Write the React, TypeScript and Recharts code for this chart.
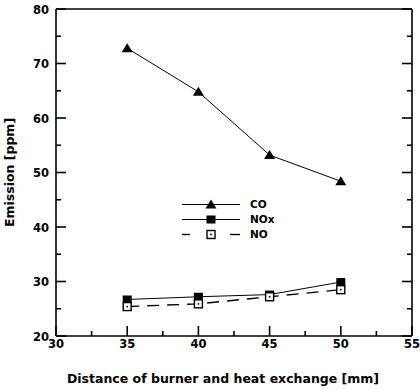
import React from 'react';
import { LineChart, Line, XAxis, YAxis } from 'recharts';

const distances = [35, 40, 45, 50];
const coValues = [72.8, 64.8, 53.2, 48.4];
const noxValues = [26.7, 27.2, 27.6, 29.9];
const noValues = [25.4, 25.9, 27.2, 28.5];

const seriesNames = ['CO', 'NOx', 'NO'];

const xMajorTicks = [30, 35, 40, 45, 50, 55];
const xMinorTicks = [32.5, 37.5, 42.5, 47.5, 52.5];
const yMajorTicks = [20, 30, 40, 50, 60, 70, 80];
const yMinorTicks = [25, 35, 45, 55, 65, 75];

const data = distances.map((d, i) => ({
  distance: d,
  co: coValues[i],
  nox: noxValues[i],
  no: noValues[i],
}));

const xTicks = [...xMajorTicks, ...xMinorTicks].sort((a, b) => a - b);
const yTicks = [...yMajorTicks, ...yMinorTicks].sort((a, b) => a - b);

const FONT = '"DejaVu Sans", Verdana, sans-serif';
const TEXT = { fill: '#000', fontSize: 11.5, fontWeight: 700, fontFamily: FONT };
const axisLine = { stroke: '#000', strokeWidth: 1.6 };
const MAJOR = 10;
const MINOR = 5;

// ticks point into the plot; tickSize/tickMargin are 0 so x,y land on the axis line
const makeTick = (side: 'left' | 'right' | 'top' | 'bottom', majors: number[], labelled: boolean) => (props: any) => {
  const { x, y, payload } = props;
  const v = payload.value;
  const isMajor = majors.includes(v);
  const len = isMajor ? MAJOR : MINOR;
  let line;
  if (side === 'left') line = <line x1={x} y1={y} x2={x + len} y2={y} stroke="#000" strokeWidth={1.6} />;
  else if (side === 'right') line = <line x1={x} y1={y} x2={x - len} y2={y} stroke="#000" strokeWidth={1.6} />;
  else if (side === 'top') line = <line x1={x} y1={y} x2={x} y2={y + len} stroke="#000" strokeWidth={1.6} />;
  else line = <line x1={x} y1={y} x2={x} y2={y - len} stroke="#000" strokeWidth={1.6} />;
  let label = null;
  if (labelled && isMajor) {
    if (side === 'left')
      label = <text x={x - 7} y={y + 4.5} textAnchor="end" {...TEXT}>{v}</text>;
    else if (side === 'bottom')
      label = <text x={x} y={y + 12} textAnchor="middle" {...TEXT}>{v}</text>;
  }
  return <g>{line}{label}</g>;
};

const LeftTick = makeTick('left', yMajorTicks, true);
const RightTick = makeTick('right', yMajorTicks, false);
const BottomTick = makeTick('bottom', xMajorTicks, true);
const TopTick = makeTick('top', xMajorTicks, false);

const Triangle = (props: any) => {
  const { cx, cy } = props;
  if (cx == null || cy == null) return null;
  return <polygon points={`${cx},${cy - 5} ${cx + 5.5},${cy + 4} ${cx - 5.5},${cy + 4}`} fill="#000" />;
};

const FilledSquare = (props: any) => {
  const { cx, cy } = props;
  if (cx == null || cy == null) return null;
  return <rect x={cx - 4.5} y={cy - 4} width={9} height={8} fill="#000" />;
};

const OpenSquare = (props: any) => {
  const { cx, cy } = props;
  if (cx == null || cy == null) return null;
  return (
    <g>
      <rect x={cx - 4} y={cy - 4} width={8} height={8} fill="#fff" stroke="#000" strokeWidth={1.4} />
      <circle cx={cx} cy={cy} r={0.9} fill="#000" />
    </g>
  );
};

const markers = [Triangle, FilledSquare, OpenSquare];

function LegendBox() {
  return (
    <div style={{ position: 'absolute', left: 182, top: 197 }}>
      {seriesNames.map((name, i) => {
        const Marker = markers[i];
        return (
          <div key={name} style={{ display: 'flex', alignItems: 'center', height: 15 }}>
            <svg width={68} height={15} style={{ display: 'block' }}>
              {i < 2 ? (
                <line x1={0} y1={7.5} x2={58} y2={7.5} stroke="#000" strokeWidth={1} />
              ) : (
                <g stroke="#000" strokeWidth={1.4}>
                  <line x1={0} y1={7.5} x2={8} y2={7.5} />
                  <line x1={48} y1={7.5} x2={58} y2={7.5} />
                </g>
              )}
              <Marker cx={29} cy={7.5} />
            </svg>
            <span style={{ fontFamily: FONT, fontWeight: 700, fontSize: 10.5, color: '#000', lineHeight: '15px' }}>{name}</span>
          </div>
        );
      })}
    </div>
  );
}

export default function App() {
  return (
    <div style={{ position: 'absolute', left: 0, top: 0, width: 420, height: 389, background: '#fff' }}>
      <LineChart width={420} height={389} data={data} margin={{ top: 8, right: 7, bottom: 0, left: 0 }}>
        <XAxis xAxisId="x" dataKey="distance" type="number" domain={[30, 55]} ticks={xTicks}
          allowDataOverflow height={53} tickSize={0} tickMargin={0} tickLine={false}
          tick={<BottomTick />} axisLine={axisLine} interval={0}
          label={{ value: 'Distance of burner and heat exchange [mm]', position: 'insideBottom', offset: 6, dx: -11,
            style: { fill: '#000', fontSize: 12.5, fontWeight: 700, fontFamily: FONT } }} />
        <XAxis xAxisId="xTop" orientation="top" type="number" domain={[30, 55]} ticks={xTicks}
          allowDataOverflow height={1} tickSize={0} tickMargin={0} tickLine={false}
          tick={<TopTick />} axisLine={axisLine} interval={0} />

        <YAxis yAxisId="y" type="number" domain={[20, 80]} ticks={yTicks} allowDataOverflow
          width={56} tickSize={0} tickMargin={0} tickLine={false} tick={<LeftTick />} axisLine={axisLine} interval={0}
          label={{ value: 'Emission [ppm]', angle: -90, position: 'insideLeft', offset: 10,
            style: { fill: '#000', fontSize: 12.5, fontWeight: 700, fontFamily: FONT, textAnchor: 'middle' } }} />
        <YAxis yAxisId="yRight" orientation="right" type="number" domain={[20, 80]} ticks={yTicks} allowDataOverflow
          width={1} tickSize={0} tickMargin={0} tickLine={false} tick={<RightTick />} axisLine={axisLine} interval={0} />

        <Line xAxisId="x" yAxisId="y" dataKey="co" name={seriesNames[0]} stroke="#000" strokeWidth={1}
          dot={<Triangle />} activeDot={false} isAnimationActive={false} />
        <Line xAxisId="x" yAxisId="y" dataKey="nox" name={seriesNames[1]} stroke="#000" strokeWidth={1}
          dot={<FilledSquare />} activeDot={false} isAnimationActive={false} />
        <Line xAxisId="x" yAxisId="y" dataKey="no" name={seriesNames[2]} stroke="#000" strokeWidth={1.4}
          strokeDasharray="12 8" dot={<OpenSquare />} activeDot={false} isAnimationActive={false} />
      </LineChart>
      <LegendBox />
    </div>
  );
}
